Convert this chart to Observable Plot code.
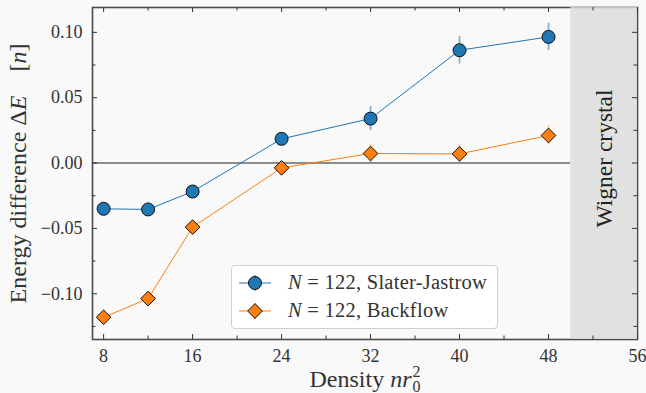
<!DOCTYPE html>
<html><head><meta charset="utf-8">
<script src="https://cdn.jsdelivr.net/npm/d3@7"></script>
<script src="https://cdn.jsdelivr.net/npm/@observablehq/plot@0.6"></script>
<style>
body{margin:0;background:#f9f9f9;}
#wrap{position:relative;width:646px;height:393px;overflow:hidden;font-family:'Liberation Serif',serif;color:#333;}
#wrap svg text{font-family:'Liberation Serif',serif;}
#legend{position:absolute;left:231px;top:265px;width:265px;height:62px;border:1px solid #d0d0d0;border-radius:4px;background:#fff;}
#legend .row{position:absolute;left:0;height:28px;width:100%;}
#legend svg{position:absolute;left:0;top:0;}
#legend span{position:absolute;left:56px;top:50%;transform:translateY(-52%);font-size:20.5px;letter-spacing:0.25px;white-space:nowrap;}
</style></head><body><div id="wrap"></div>
<script>
// ---- data ----
const density   = [8, 12, 16, 24, 32, 40, 48];
const sjEnergy  = [-0.035, -0.0355, -0.0218, 0.0185, 0.034, 0.0863, 0.0965];
const sjError   = [0.002, 0.002, 0.003, 0.003, 0.0092, 0.0105, 0.0105];
const bfEnergy  = [-0.118, -0.1037, -0.049, -0.0037, 0.0073, 0.007, 0.0211];
const bfError   = [0.002, 0.002, 0.002, 0.002, 0.0068, 0.007, 0.007];
const seriesNames = ["Slater-Jastrow", "Backflow"];
const systemSize = 122;
const xMajorTicks = [8, 16, 24, 32, 40, 48, 56];
const xMinorTicks = [12, 20, 28, 36, 44, 52];
const yMajorTicks = [-0.10, -0.05, 0, 0.05, 0.10];
const yMinorTicks = [-0.125, -0.075, -0.025, 0.025, 0.075];
const xDomain = [7, 56];
const yDomain = [-0.135, 0.119];
const wignerRange = [50, 56];
const wignerLabel = "Wigner crystal";
const xLabelText = "Density nr0^2";
const yLabelText = "Energy difference ΔE [n]";

const blue = "#1f77b4", orange = "#ff7f0e";
const serif = "'Liberation Serif', serif";
const sj = density.map((x, i) => ({x, y: sjEnergy[i], e: sjError[i]}));
const bf = density.map((x, i) => ({x, y: bfEnergy[i], e: bfError[i]}));

const W = 646, H = 393, mL = 92, mR = 9, mT = 7, mB = 54;
const frameH = H - mT - mB, frameW = W - mL - mR;
const major = 5, minor = 3.5, tickColor = "#333";

const plot = Plot.plot({
  width: W, height: H,
  marginLeft: mL, marginRight: mR, marginTop: mT, marginBottom: mB,
  style: {background: "transparent", fontFamily: serif, fontSize: "18px", color: "#333"},
  x: {domain: xDomain},
  y: {domain: yDomain},
  marks: [
    Plot.ruleY([0], {x1: xDomain[0], x2: wignerRange[0], stroke: "#8c8c8c", strokeWidth: 2}),
    Plot.line(sj, {x: "x", y: "y", stroke: blue, strokeWidth: 1}),
    Plot.line(bf, {x: "x", y: "y", stroke: orange, strokeWidth: 1}),
    Plot.ruleX(sj, {x: "x", y1: d => d.y - d.e, y2: d => d.y + d.e, stroke: blue, strokeOpacity: 0.6, strokeWidth: 1.6}),
    Plot.ruleX(bf, {x: "x", y1: d => d.y - d.e, y2: d => d.y + d.e, stroke: orange, strokeOpacity: 0.6, strokeWidth: 1.6}),
    Plot.dot(sj, {x: "x", y: "y", r: 6.5, fill: blue, stroke: "#111", strokeWidth: 1}),
    Plot.dot(bf, {x: "x", y: "y", symbol: "diamond2", r: 6.6, fill: orange, stroke: "#111", strokeWidth: 1}),
    Plot.frame({stroke: "#4a4a4a", strokeWidth: 1.6}),
    // shaded Wigner-crystal region drawn over the frame, lightening its border there
    Plot.rect([wignerRange], {x1: d => d[0], x2: d => d[1], fill: "#dcdcdc", fillOpacity: 0.82}),
    // inward ticks (bottom/top)
    Plot.tickX(xMajorTicks, {x: d => d, insetTop: frameH - major, stroke: tickColor}),
    Plot.tickX(xMajorTicks, {x: d => d, insetBottom: frameH - major, stroke: tickColor}),
    Plot.tickX(xMinorTicks, {x: d => d, insetTop: frameH - minor, stroke: tickColor}),
    Plot.tickX(xMinorTicks, {x: d => d, insetBottom: frameH - minor, stroke: tickColor}),
    // inward ticks (left/right)
    Plot.tickY(yMajorTicks, {y: d => d, insetRight: frameW - major, stroke: tickColor}),
    Plot.tickY(yMajorTicks, {y: d => d, insetLeft: frameW - major, stroke: tickColor}),
    Plot.tickY(yMinorTicks, {y: d => d, insetRight: frameW - minor, stroke: tickColor}),
    Plot.tickY(yMinorTicks, {y: d => d, insetLeft: frameW - minor, stroke: tickColor}),
    Plot.axisX({ticks: xMajorTicks, tickSize: 0, tickPadding: 10, tickFormat: d => String(d), label: null, fontSize: 18, fontFamily: serif, fontVariant: "normal"}),
    Plot.axisY({ticks: yMajorTicks, tickSize: 0, tickPadding: 10, tickFormat: d3.format(".2f"), label: null, fontSize: 18, fontFamily: serif, fontVariant: "normal"}),
    Plot.text([wignerLabel], {x: (wignerRange[0] + wignerRange[1]) / 2, text: d => d, rotate: -90, frameAnchor: "middle", textAnchor: "middle", lineAnchor: "middle", dy: -15, fontSize: 23.5, fill: "#222", fontFamily: serif}),
    Plot.text([yLabelText], {text: d => d, frameAnchor: "left", textAnchor: "middle", lineAnchor: "middle", rotate: -90, dx: -74, fontSize: 24, fill: "#333", fontFamily: serif}),
    Plot.text([xLabelText], {text: d => d, frameAnchor: "bottom", textAnchor: "middle", lineAnchor: "middle", dy: 40, fontSize: 24, fill: "#333", fontFamily: serif})
  ]
});

// rich-text formatting for math parts
function rich(el, parts) {
  const t = d3.select(el);
  t.text(null);
  for (const p of parts) {
    const s = t.append("tspan").text(p.t);
    if (p.i) s.attr("font-style", "italic");
    if (p.dx != null) s.attr("dx", p.dx);
    if (p.dy != null) s.attr("dy", p.dy);
    if (p.fs != null) s.attr("font-size", p.fs);
  }
}
d3.select(plot).selectAll("text").each(function () {
  const c = this.textContent;
  if (c === xLabelText) {
    rich(this, [{t: "Density "}, {t: "nr", i: true}, {t: "2", fs: 16, dy: -10, dx: 1}, {t: "0", fs: 16, dx: -8, dy: 15}]);
  } else if (c === yLabelText) {
    rich(this, [{t: "Energy difference Δ"}, {t: "E", i: true}, {t: "[", dx: 24}, {t: "n", i: true}, {t: "]"}]);
  }
});

const wrap = document.getElementById("wrap");
wrap.appendChild(plot);

// legend
const legend = document.createElement("div");
legend.id = "legend";
const rows = [
  {name: seriesNames[0], color: blue, sym: "circle", top: 3},
  {name: seriesNames[1], color: orange, sym: "diamond", top: 31}
];
for (const r of rows) {
  const row = document.createElement("div");
  row.className = "row";
  row.style.top = r.top + "px";
  const marker = r.sym === "circle"
    ? `<circle cx="23" cy="14" r="6.5" fill="${r.color}" stroke="#111"/>`
    : `<path d="M23,6.6L30.4,14L23,21.4L15.6,14Z" fill="${r.color}" stroke="#111"/>`;
  row.innerHTML = `<svg width="50" height="28"><line x1="7" x2="39" y1="14" y2="14" stroke="${r.color}" stroke-width="1"/>` +
    `<line x1="23" x2="23" y1="6" y2="22" stroke="${r.color}" stroke-opacity="0.6" stroke-width="1.6"/>${marker}</svg>` +
    `<span><i>N</i> = ${systemSize}, ${r.name}</span>`;
  legend.appendChild(row);
}
wrap.appendChild(legend);
</script>
</body></html>
